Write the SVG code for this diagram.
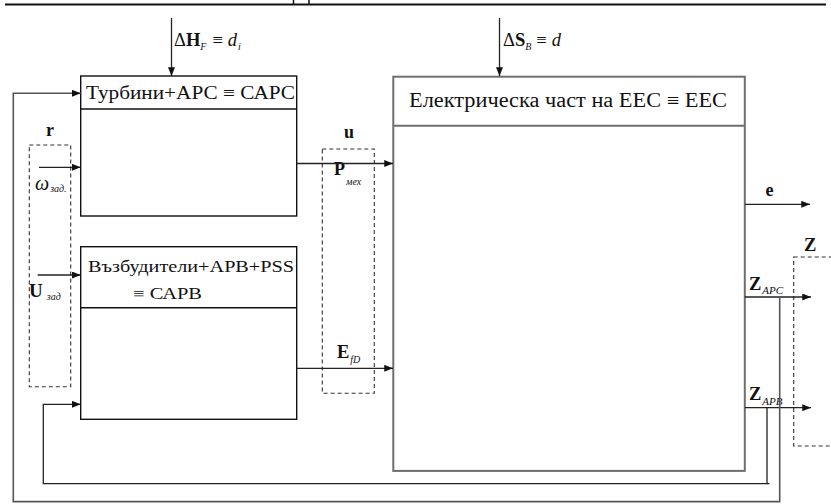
<svg xmlns="http://www.w3.org/2000/svg" width="831" height="504" viewBox="0 0 831 504">
  <defs>
    <marker id="arr" viewBox="0 0 10 8" refX="10" refY="4" markerWidth="9" markerHeight="7" markerUnits="userSpaceOnUse" orient="auto">
      <path d="M0,0 L10,4 L0,8 z" fill="#111"/>
    </marker>
    <style>
      text { font-family: "Liberation Serif", "Times New Roman", "DejaVu Serif", serif; fill: #111; }
      .blk { fill: none; stroke: #111; stroke-width: 1.4; }
      .eec { fill: none; stroke: #6e6e6e; stroke-width: 2; }
      .ln { fill: none; stroke: #222; stroke-width: 1.3; }
      .lg { fill: none; stroke: #555; stroke-width: 1.6; }
      .dash { fill: none; stroke: #333; stroke-width: 1.1; stroke-dasharray: 4 3; }
      .arr { marker-end: url(#arr); }
      .b { font-weight: bold; }
      .i { font-style: italic; }
    </style>
  </defs>

  <!-- page rule at the top -->
  <line x1="5" y1="4.5" x2="826" y2="4.5" stroke="#111" stroke-width="2"/>
  <line x1="293.5" y1="0" x2="293.5" y2="4" stroke="#111" stroke-width="1.5"/>
  <line x1="309" y1="0" x2="309" y2="4" stroke="#111" stroke-width="1.5"/>

  <!-- disturbance inputs -->
  <g id="dist-H">
    <text x="174" y="46" font-size="18.5"><tspan>Δ</tspan><tspan class="b">H</tspan><tspan class="i" font-size="10" dy="4">F</tspan><tspan dy="-4" dx="6">≡</tspan><tspan class="i" dx="5">d</tspan><tspan class="i" font-size="10" dy="4" dx="1">i</tspan></text>
  </g>
  <g id="dist-S">
    <text x="503" y="46" font-size="18.5"><tspan>Δ</tspan><tspan class="b">S</tspan><tspan class="i" font-size="10" dy="4">B</tspan><tspan dy="-4" dx="5">≡</tspan><tspan class="i" dx="5">d</tspan></text>
  </g>

  <!-- turbine + speed governor block -->
  <g id="capc">
    <rect class="blk" x="80.7" y="76" width="216" height="140"/>
    <line class="blk" x1="80.7" y1="109" x2="296.7" y2="109"/>
    <text x="86" y="99" font-size="18.5" textLength="209" lengthAdjust="spacingAndGlyphs">Турбини+АРС ≡ САРС</text>
  </g>

  <!-- exciter + AVR + PSS block -->
  <g id="capb">
    <rect class="blk" x="80.7" y="246.7" width="216" height="172.6"/>
    <line class="blk" x1="80.7" y1="307.7" x2="296.7" y2="307.7"/>
    <text x="88" y="272" font-size="16" textLength="206" lengthAdjust="spacingAndGlyphs">Възбудители+АРВ+PSS</text>
    <text x="133" y="298.5" font-size="16" textLength="69" lengthAdjust="spacingAndGlyphs">≡ САРВ</text>
  </g>

  <!-- electrical part of the power system -->
  <g id="eec">
    <rect class="eec" x="393.3" y="76.7" width="351.5" height="394.2"/>
    <line class="eec" x1="393.3" y1="125.7" x2="744.8" y2="125.7"/>
    <text x="409" y="107" font-size="20.5" textLength="318" lengthAdjust="spacingAndGlyphs">Електрическа  част на ЕЕС ≡ ЕЕС</text>
  </g>

  <!-- signal groups -->
  <g id="r-group">
    <rect class="dash" x="29.3" y="145" width="41.4" height="241.7"/>
    <text class="b" x="46" y="136" font-size="18">r</text>
    <text x="35" y="189.5" font-size="20"><tspan class="i">ω</tspan><tspan class="i" font-size="10" dy="2" dx="1">зад.</tspan></text>
    <text x="29" y="296.5" font-size="19"><tspan class="b">U</tspan><tspan class="i" font-size="10" dy="3" dx="4">зад</tspan></text>
  </g>
  <g id="u-group">
    <rect class="dash" x="322.3" y="149" width="52" height="244.3"/>
    <text class="b" x="344" y="138.3" font-size="18">u</text>
    <text x="334" y="175" font-size="18"><tspan class="b">P</tspan><tspan class="i" font-size="10" dy="10" dx="1">мех</tspan></text>
    <text x="337" y="358.3" font-size="18.5"><tspan class="b">E</tspan><tspan class="i" font-size="10" dy="5" dx="1">fD</tspan></text>
  </g>
  <g id="z-group">
    <rect class="dash" x="793.7" y="257" width="60" height="189"/>
    <text class="b" x="804" y="250.5" font-size="18.5">Z</text>
  </g>
  <g id="out-labels">
    <text class="b" x="765.5" y="195.7" font-size="18">e</text>
    <text x="749" y="289.5" font-size="18.5"><tspan class="b">Z</tspan><tspan class="i" font-size="11" dy="4.5" dx="1">APC</tspan></text>
    <text x="749" y="399.5" font-size="18.5"><tspan class="b">Z</tspan><tspan class="i" font-size="11" dy="5" dx="1">APB</tspan></text>
  </g>

  <!-- connectors -->
  <g id="connectors">
    <line class="ln arr" x1="171.5" y1="18" x2="171.5" y2="76"/>
    <line class="ln arr" x1="499.5" y1="18" x2="499.5" y2="76"/>

    <line class="ln arr" x1="39" y1="167.3" x2="80.7" y2="167.3"/>
    <line class="ln arr" x1="37.7" y1="275" x2="80.7" y2="275"/>

    <line class="ln arr" x1="296.7" y1="163.5" x2="393" y2="163.5"/>
    <line class="ln arr" x1="296.7" y1="368.3" x2="393" y2="368.3"/>

    <line class="ln arr" x1="745" y1="204.3" x2="810" y2="204.3"/>
    <line class="ln arr" x1="745" y1="297" x2="811" y2="297"/>
    <line class="ln arr" x1="745" y1="407.7" x2="811" y2="407.7"/>

    <!-- speed feedback loop -->
    <polyline class="lg arr" points="779.7,297 779.7,501.6 13.3,501.6 13.3,93.3 80.7,93.3"/>
    <!-- voltage feedback loop -->
    <polyline class="ln arr" points="767,407.7 767,483.6 43.3,483.6 43.3,404.3 80.7,404.3"/>
    <line class="ln" x1="767" y1="483.6" x2="769.5" y2="483.6"/>
  </g>
</svg>
